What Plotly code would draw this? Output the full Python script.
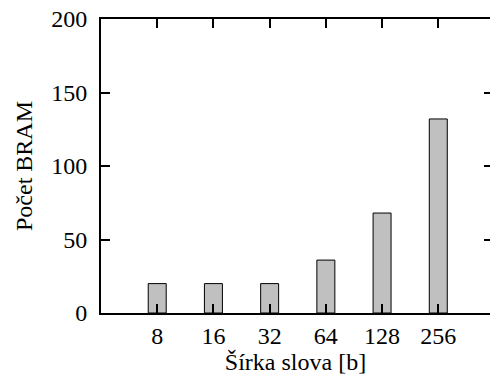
import plotly.graph_objects as go

# BRAM usage per word width
widths = ["8", "16", "32", "64", "128", "256"]
bram_counts = [20, 20, 20, 36, 68, 132]
y_ticks = [0, 50, 100, 150, 200]

positions = list(range(len(widths)))
FONT = dict(family="Liberation Serif", size=24, color="black")

fig = go.Figure()
fig.add_trace(go.Bar(
    x=positions,
    y=bram_counts,
    width=0.32,
    marker=dict(color="#c0c0c0", line=dict(color="black", width=1)),
    showlegend=False,
))
# invisible trace to carry the right-hand y-axis ticks
fig.add_trace(go.Scatter(x=[positions[0]], y=[0], yaxis="y2", mode="markers",
                         marker=dict(opacity=0), showlegend=False, hoverinfo="skip"))

fig.update_layout(
    width=490, height=378,
    margin=dict(l=101, r=0, t=19, b=65),
    paper_bgcolor="white", plot_bgcolor="white",
    font=FONT,
    xaxis=dict(
        range=[-1, 5.92],
        tickvals=positions, ticktext=widths,
        ticks="inside", ticklen=9, tickwidth=1.5, tickcolor="black",
        showline=True, linecolor="black", linewidth=2, mirror="ticks",
        showgrid=False, zeroline=False,
        title=dict(text="Šírka slova [b]", font=FONT, standoff=2),
    ),
    yaxis=dict(
        range=[0, 200],
        tickvals=y_ticks,
        ticks="inside", ticklen=9, tickwidth=1.5, tickcolor="black",
        ticklabelstandoff=7,
        showline=True, linecolor="black", linewidth=2,
        showgrid=False, zeroline=False,
        title=dict(text="Počet BRAM", font=FONT, standoff=12),
    ),
    yaxis2=dict(
        range=[0, 200], overlaying="y", side="right", anchor="x",
        tickvals=y_ticks, showticklabels=False,
        ticks="inside", ticklen=6, tickwidth=1.5, tickcolor="black",
        showline=False, showgrid=False, zeroline=False,
    ),
)

fig.write_html("out.html")
